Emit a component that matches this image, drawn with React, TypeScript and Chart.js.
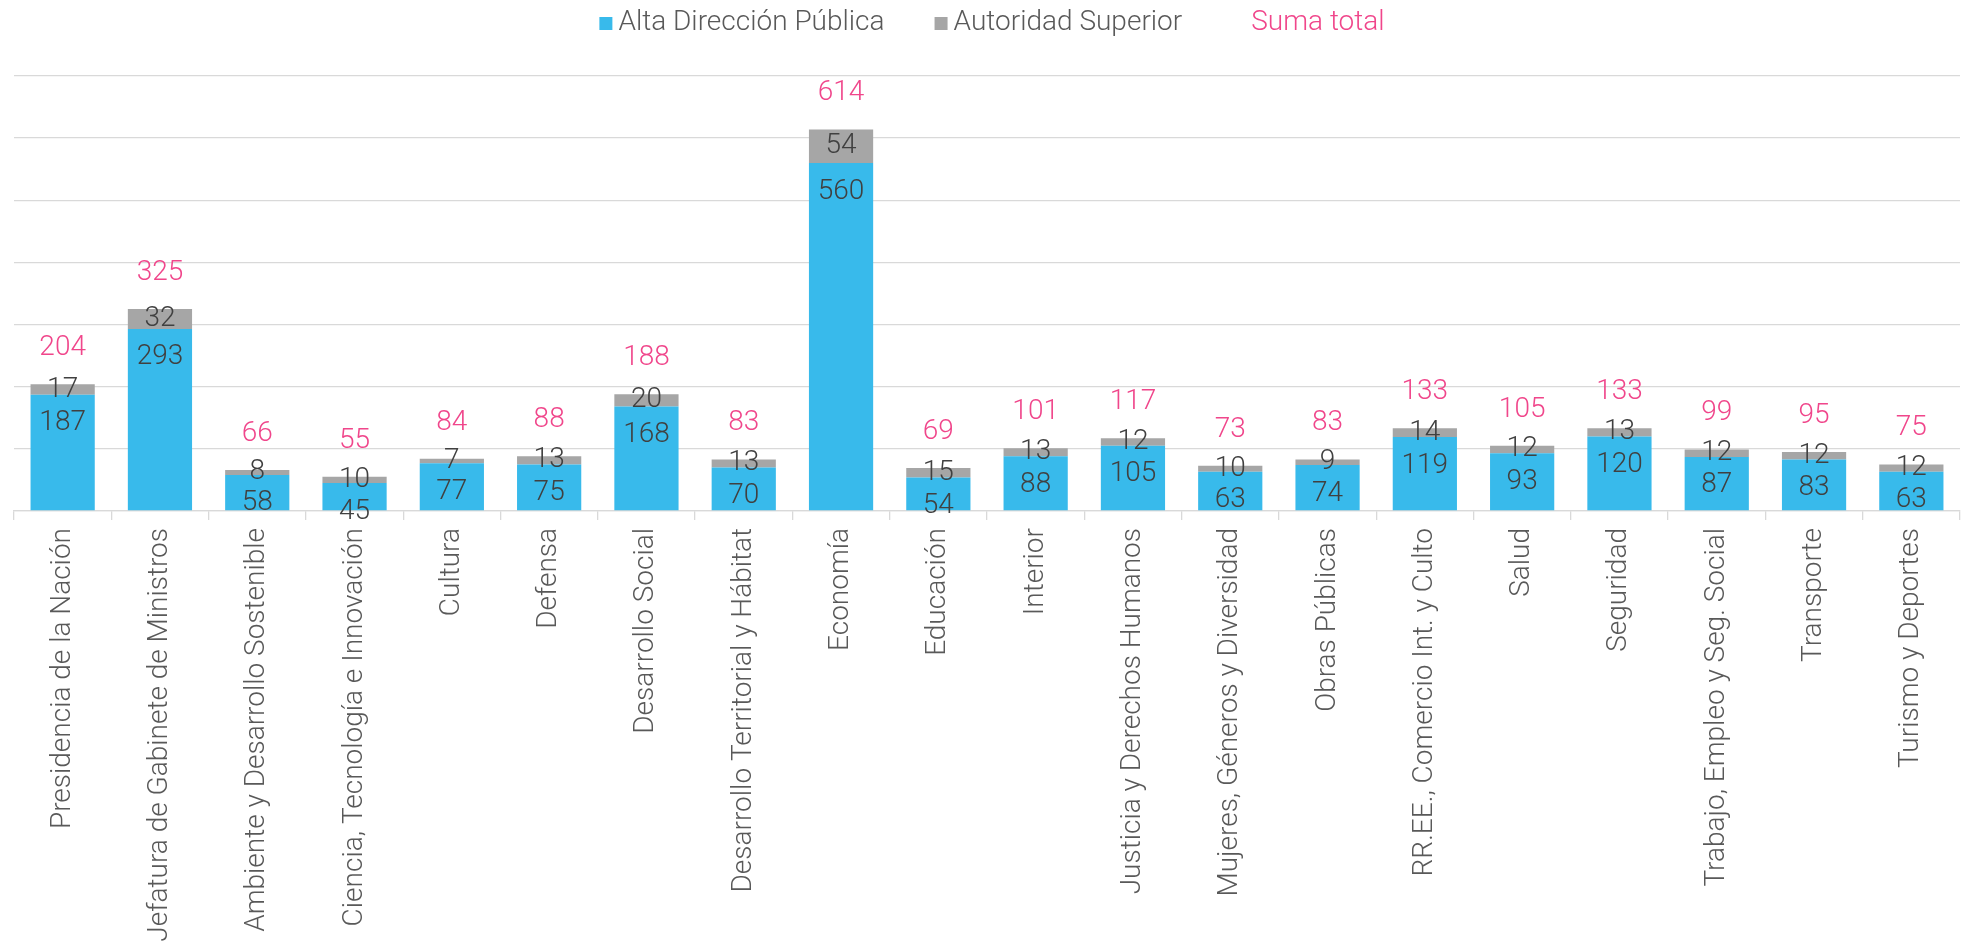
import React, { useEffect, useRef } from "react";
import { Chart, registerables } from "chart.js";

Chart.register(...registerables);

const categories = [
  "Presidencia de la Nación",
  "Jefatura de Gabinete de Ministros",
  "Ambiente y Desarrollo Sostenible",
  "Ciencia, Tecnología e Innovación",
  "Cultura",
  "Defensa",
  "Desarrollo Social",
  "Desarrollo Territorial y Hábitat",
  "Economía",
  "Educación",
  "Interior",
  "Justicia y Derechos Humanos",
  "Mujeres, Géneros y Diversidad",
  "Obras Públicas",
  "RR.EE., Comercio Int. y Culto",
  "Salud",
  "Seguridad",
  "Trabajo, Empleo y Seg. Social",
  "Transporte",
  "Turismo y Deportes",
];

const altaDireccion = [187, 293, 58, 45, 77, 75, 168, 70, 560, 54, 88, 105, 63, 74, 119, 93, 120, 87, 83, 63];
const autoridadSuperior = [17, 32, 8, 10, 7, 13, 20, 13, 54, 15, 13, 12, 10, 9, 14, 12, 13, 12, 12, 12];
const sumaTotal = [204, 325, 66, 55, 84, 88, 188, 83, 614, 69, 101, 117, 73, 83, 133, 105, 133, 99, 95, 75];

const seriesNames = ["Alta Dirección Pública", "Autoridad Superior", "Suma total"];
const yTicks = [0, 100, 200, 300, 400, 500, 600, 700];

const BLUE = "#38BAEB";
const GRAY = "#A6A6A6";
const PINK = "#F0468B";
const LABEL_DARK = "#404040";
const TEXT_GRAY = "#595959";
const GRID = "#D9D9D9";
const FONT = "Roboto";
const FS = 28;

const valueLabels = {
  id: "valueLabels",
  afterDatasetsDraw(chart: any) {
    const ctx = chart.ctx;
    const yScale = chart.scales.y;
    const m0 = chart.getDatasetMeta(0);
    const m1 = chart.getDatasetMeta(1);
    ctx.save();
    ctx.font = `300 ${FS}px ${FONT}`;
    ctx.textAlign = "center";
    ctx.textBaseline = "middle";
    m0.data.forEach((bar: any, i: number) => {
      const x = bar.x;
      ctx.fillStyle = LABEL_DARK;
      ctx.fillText(String(altaDireccion[i]), x, bar.y + 28.5);
      const g = m1.data[i];
      ctx.fillText(String(autoridadSuperior[i]), x, (g.y + g.base) / 2);
      ctx.fillStyle = PINK;
      ctx.fillText(String(sumaTotal[i]), x, yScale.getPixelForValue(sumaTotal[i]) - 36);
    });
    ctx.restore();
  },
};

const customLegend = {
  id: "customLegend",
  afterDraw(chart: any) {
    const ctx = chart.ctx;
    const items = [
      { text: seriesNames[0], box: BLUE, color: TEXT_GRAY },
      { text: seriesNames[1], box: GRAY, color: TEXT_GRAY },
      { text: seriesNames[2], box: null as string | null, color: PINK },
    ];
    const boxSize = 13;
    const boxGap = 6;
    const itemGap = 50;
    ctx.save();
    ctx.font = `300 ${FS}px ${FONT}`;
    const widths = items.map((it) => boxSize + boxGap + ctx.measureText(it.text).width);
    const total = widths.reduce((a, b) => a + b, 0) + itemGap * (items.length - 1);
    let x = chart.width / 2 - total / 2 + 8;
    const cy = 22.5;
    ctx.textBaseline = "middle";
    ctx.textAlign = "left";
    items.forEach((it, i) => {
      if (it.box) {
        ctx.fillStyle = it.box;
        ctx.fillRect(x, cy - boxSize / 2 + 1, boxSize, boxSize);
      }
      ctx.fillStyle = it.color;
      ctx.fillText(it.text, x + boxSize + boxGap, cy);
      x += widths[i] + itemGap;
    });
    ctx.restore();
  },
};

export default function App() {
  const ref = useRef<HTMLCanvasElement | null>(null);
  useEffect(() => {
    if (!ref.current) return;
    const chart = new Chart(ref.current, {
      type: "bar",
      data: {
        labels: categories,
        datasets: [
          {
            label: seriesNames[0],
            data: altaDireccion,
            backgroundColor: BLUE,
            barPercentage: 0.66,
            categoryPercentage: 1.0,
          },
          {
            label: seriesNames[1],
            data: autoridadSuperior,
            backgroundColor: GRAY,
            barPercentage: 0.66,
            categoryPercentage: 1.0,
          },
        ],
      },
      options: {
        responsive: true,
        maintainAspectRatio: false,
        animation: false,
        layout: { padding: { left: 14, right: 8, top: 76, bottom: 0 } },
        plugins: {
          legend: { display: false },
          tooltip: { enabled: false },
        },
        scales: {
          x: {
            stacked: true,
            offset: true,
            grid: {
              offset: true,
              drawOnChartArea: false,
              drawTicks: true,
              tickLength: 9,
              color: GRID,
              lineWidth: 1.3,
            },
            border: { display: true, color: GRID, width: 1.3 },
            ticks: {
              autoSkip: false,
              maxRotation: 90,
              minRotation: 90,
              padding: 8,
              color: TEXT_GRAY,
              font: { family: FONT, size: FS, weight: 300 as any },
            },
            afterFit: (scale: any) => {
              scale.height = 433;
            },
          },
          y: {
            stacked: true,
            min: yTicks[0],
            max: yTicks[yTicks.length - 1],
            afterBuildTicks: (scale: any) => {
              scale.ticks = yTicks.map((v) => ({ value: v }));
            },
            grid: { color: GRID, lineWidth: 1.3, drawTicks: false },
            border: { display: false },
            ticks: { display: false },
            afterFit: (scale: any) => {
              scale.width = 0;
            },
          },
        },
      },
      plugins: [valueLabels, customLegend],
    });
    return () => chart.destroy();
  }, []);
  return (
    <div style={{ position: "fixed", left: 0, top: 0, width: 1968, height: 944, background: "#fff" }}>
      <canvas ref={ref} />
    </div>
  );
}
